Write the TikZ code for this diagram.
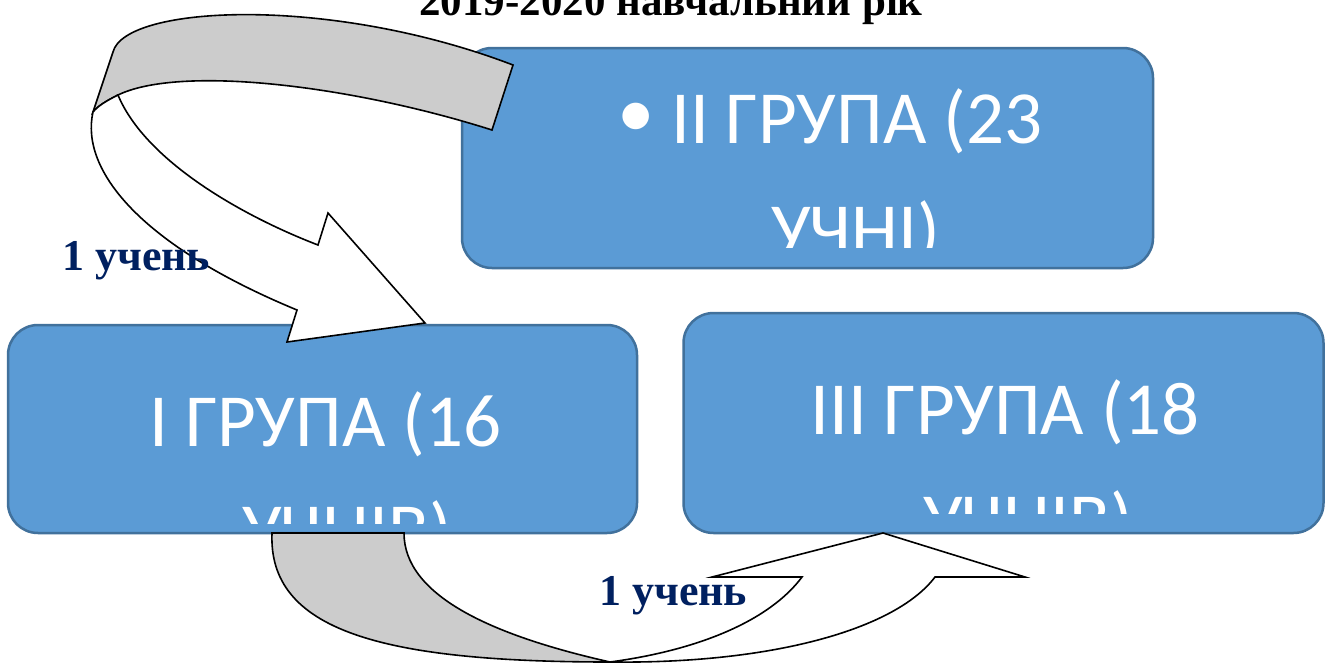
\documentclass[tikz,border=0pt]{standalone}
\usepackage{fontspec}
\setmainfont{Liberation Serif}
\newfontfamily\bodyfont{Carlito}
\definecolor{boxfill}{HTML}{5B9BD5}
\definecolor{boxline}{HTML}{41719C}
\definecolor{navy}{HTML}{002060}
\definecolor{bandgray}{HTML}{CCCCCC}
\begin{document}
\begin{tikzpicture}[x=1pt,y=-1pt,
  grp/.style={draw=boxline, line width=2.5pt, fill=boxfill, rounded corners=30pt, inner sep=0pt, outer sep=0pt},
  grptext/.style={anchor=base west, inner sep=0pt, text=white, font=\bodyfont\fontsize{75}{75}\selectfont},
  arrowline/.style={draw=black, line width=1.6pt, line join=miter},
  countlbl/.style={anchor=base west, inner sep=0pt, text=navy, font=\bfseries\fontsize{44}{44}\selectfont}]
\useasboundingbox (0,0) rectangle (1341,664);
\clip (0,0) rectangle (1341,664);
\fill[white] (0,0) rectangle (1341,664);

% title (clipped by the top of the page)
\node[anchor=base, inner sep=0pt, font=\bfseries\fontsize{43}{43}\selectfont] (title) at (671,15) {2019-2020 навчальний рік};

% group boxes
\node[grp, minimum width=691pt, minimum height=220pt] (g2) at (807.5,158) {};
\node[grp, minimum width=629pt, minimum height=208pt] (g1) at (322.5,429) {};
\node[grp, minimum width=640pt, minimum height=220pt] (g3) at (1003.5,423) {};

% texts of the boxes, clipped inside
\begin{scope}
  \clip (462,48) rectangle (1153,247);
  \node[anchor=center, inner sep=0pt, text=white, font=\bodyfont\fontsize{75}{75}\selectfont] (g2b) at (636,120) {•};
  \node[grptext] (g2l1) at (671,143) {ІІ ГРУПА (23};
  \node[grptext] (g2l2) at (771,255) {УЧНІ)};
\end{scope}
\begin{scope}
  \clip (8,325) rectangle (637,523);
  \node[grptext] (g1l1) at (149,446) {І ГРУПА (16};
  \node[grptext] (g1l2) at (242,555) {УЧНІВ)};
\end{scope}
\begin{scope}
  \clip (684,313) rectangle (1324,513);
  \node[grptext] (g3l1) at (810,434) {ІІІ ГРУПА (18};
  \node[grptext] (g3l2) at (923,545) {УЧНІВ)};
\end{scope}

% top curved arrow (from II group to I group)
\path[arrowline, fill=bandgray]
  (113,52) .. controls (125,5) and (330,-5) .. (513,65)
  -- (492,130)
  .. controls (350,85) and (180,65) .. (118,95)
  .. controls (106,101) and (98,106) .. (93,112)
  -- cycle;
\path[arrowline, fill=white]
  (93,112) .. controls (80,170) and (140,245) .. (297,310)
  -- (287,342) -- (425,323) -- (328,213) -- (318,245)
  .. controls (240,215) and (145,160) .. (118,95)
  .. controls (106,101) and (98,106) .. (93,112)
  -- cycle;

% bottom curved arrow (from I group to III group)
\path[arrowline, fill=bandgray]
  (272,533) .. controls (268,630) and (380,662) .. (610,662)
  .. controls (490,635) and (404,595) .. (404,533) -- cycle;
\path[arrowline, fill=white]
  (610,662) .. controls (700,650) and (770,620) .. (802,577)
  -- (712,577) -- (883,533) -- (1025,577) -- (935,577)
  .. controls (895,630) and (770,664) .. (610,662)
  -- cycle;

% labels
\node[countlbl] (lbl1) at (62,270) {1 учень};
\node[countlbl] (lbl2) at (599,605) {1 учень};
\end{tikzpicture}
\end{document}
